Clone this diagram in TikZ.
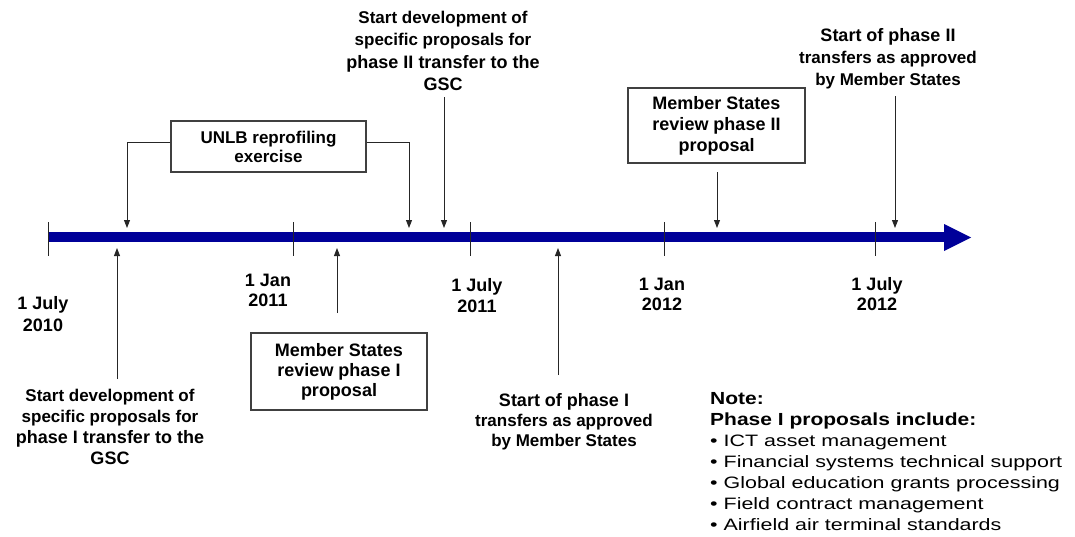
\documentclass[tikz,border=0pt]{standalone}
\usepackage{fontspec}
\setmainfont{Liberation Sans}
\newfontfamily\notefont[FakeStretch=1.3]{Liberation Sans}
\newfontfamily\notebold[FakeStretch=1.2]{Liberation Sans Bold}
\usetikzlibrary{arrows.meta}
\definecolor{tlblue}{RGB}{0,0,153}
\begin{document}
\begin{tikzpicture}[x=1pt,y=-1pt,
  lbl/.style={font=\bfseries\fontsize{18}{21}\selectfont,align=center,inner sep=0pt},
  boxnode/.style={draw=black!75,line width=1.1pt,align=center,inner sep=0pt,font=\bfseries\fontsize{17.5}{20.5}\selectfont},
  arr/.style={draw=black!85,line width=0.9pt,-{Triangle[length=8pt,width=6pt]}},
  tick/.style={draw=black!85,line width=0.9pt}]
\useasboundingbox (0,0) rectangle (1075,536);
% timeline
\coordinate (tlstart) at (48,237);
\coordinate (tlend) at (945,237);
\draw[tlblue,line width=10pt] (tlstart) -- (tlend);
\fill[tlblue] (944,224) -- (971,237.5) -- (944,251) -- cycle;
% ticks
\foreach \x/\n in {48/k1,293/k2,470/k3,664.5/k4,875/k5}{
  \coordinate (\n a) at (\x,222);
  \coordinate (\n b) at (\x,256);
  \draw[tick] (\n a) -- (\n b);
}
% dates
\node[lbl,font=\bfseries\fontsize{18}{22}\selectfont] (d1) at (43,314) {1 July\\2010};
\node[lbl,font=\bfseries\fontsize{18}{20}\selectfont] (d2) at (268,290) {1 Jan\\2011};
\node[lbl] (d3) at (477,296) {1 July\\2011};
\node[lbl,font=\bfseries\fontsize{18}{20}\selectfont] (d4) at (662,294) {1 Jan\\2012};
\node[lbl,font=\bfseries\fontsize{18}{20}\selectfont] (d5) at (877,294) {1 July\\2012};
% UNLB box
\node[boxnode,minimum width=195pt,minimum height=51pt,font=\bfseries\fontsize{17}{19}\selectfont] (ub) at (268.5,146.5) {UNLB reprofiling\\exercise};
\coordinate (ut1) at (127,228);
\coordinate (ut2) at (409,228);
\draw[arr] ([yshift=4.5pt]ub.west) -| (ut1);
\draw[arr] ([yshift=4.5pt]ub.east) -| (ut2);
% top GSC label
\node[lbl,font=\bfseries\fontsize{18}{22.5}\selectfont] (gsc2) at (443,51) {{\fontsize{17}{22.5}\selectfont Start development of}\\{\fontsize{17}{22.5}\selectfont specific proposals for}\\phase II transfer to the\\GSC};
\coordinate (g2s) at (444,97);
\coordinate (g2t) at (444,228);
\draw[arr] (g2s) -- (g2t);
% MS phase II box
\node[boxnode,minimum width=177pt,minimum height=75pt,font=\bfseries\fontsize{18}{21}\selectfont] (ms2) at (716.5,125.5) {Member States\\review phase II\\proposal};
\coordinate (m2s) at (717,172);
\coordinate (m2t) at (717,228);
\draw[arr] (m2s) -- (m2t);
% start of phase II
\node[lbl,font=\bfseries\fontsize{18}{22}\selectfont] (sp2) at (888,59) {Start of phase II\\{\fontsize{17}{22}\selectfont transfers as approved}\\{\fontsize{17}{22}\selectfont by Member States}};
\coordinate (p2s) at (895,96);
\coordinate (p2t) at (895,228);
\draw[arr] (p2s) -- (p2t);
% bottom: start dev phase I
\coordinate (u1s) at (117,379);
\coordinate (u1t) at (117,248);
\draw[arr] (u1s) -- (u1t);
\node[lbl,font=\bfseries\fontsize{18}{21}\selectfont] (gsc1) at (110,426.5) {{\fontsize{17}{21}\selectfont Start development of}\\{\fontsize{17}{21}\selectfont specific proposals for}\\phase I transfer to the\\GSC};
% MS phase I box
\coordinate (u2s) at (337,313);
\coordinate (u2t) at (337,248);
\draw[arr] (u2s) -- (u2t);
\node[boxnode,minimum width=176pt,minimum height=77pt,font=\bfseries\fontsize{18}{20}\selectfont] (ms1) at (339,371.5) {Member States\\review phase I\\proposal};
% start of phase I
\coordinate (u3s) at (558,375);
\coordinate (u3t) at (558,248);
\draw[arr] (u3s) -- (u3t);
\node[lbl,font=\bfseries\fontsize{18}{20}\selectfont] (sp1) at (564,421.5) {Start of phase I\\{\fontsize{17}{20}\selectfont transfers as approved}\\{\fontsize{17}{20}\selectfont by Member States}};
% note
\node[anchor=north west,align=left,inner sep=0pt,font=\notefont\fontsize{16.5}{21}\selectfont] (note) at (710,392) {%
{\notebold\fontsize{17.5}{21}\selectfont Note:}\\
{\notebold\fontsize{17.5}{21}\selectfont Phase I proposals include:}\\
\textbullet\ ICT asset management\\
\textbullet\ Financial systems technical support\\
\textbullet\ Global education grants processing\\
\textbullet\ Field contract management\\
\textbullet\ Airfield air terminal standards};
\end{tikzpicture}
\end{document}
